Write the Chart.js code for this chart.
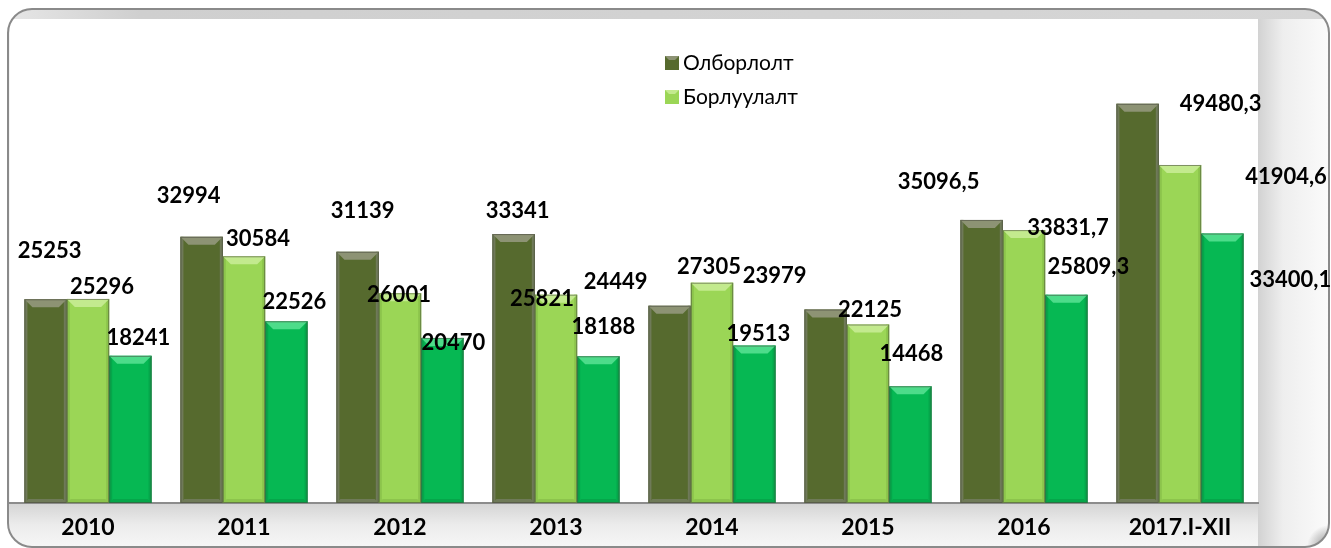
<!DOCTYPE html>
<html><head><meta charset="utf-8">
<script src="https://cdn.jsdelivr.net/npm/chart.js@4.4.0/dist/chart.umd.min.js"></script>
<style>html,body{margin:0;padding:0;background:#fff;overflow:hidden}#wrap{width:1331px;height:548px;position:relative}</style>
</head><body><div id="wrap"><canvas id="c" width="1331" height="548"></canvas></div>
<script>
// ---- data ----
const categories = ['2010','2011','2012','2013','2014','2015','2016','2017.I-XII'];
const olborlolt  = [25253, 32994, 31139, 33341, 24449, 23979, 35096.5, 49480.3];
const borluulalt = [25296, 30584, 26001, 25821, 27305, 22125, 33831.7, 41904.6];
const series3    = [18241, 22526, 20470, 18188, 19513, 14468, 25809.3, 33400.1];
const seriesNames = ['Олборлолт', 'Борлуулалт', ''];
const yMin = 0, yMax = 60000;

// ---- styles ----
const bodyColors  = ['#566a2e', '#9bd656', '#06b853'];
const topColors   = ['#8d9374', '#c3ea8e', '#4ddc8a'];
const edgeColors  = ['#6f7a58', '#8cc44c', '#05a64a'];
// label offsets (px) from the top centre of each bar
const labelOffsets = [
  [[4,-48],[-13,-41],[5,-41],[4,-23],[-54,-24],[-51,-34],[-43,-38],[83,0]],
  [[14,-12],[14,-17],[-1,2],[-14,4],[-3,-16],[2,-15],[44,-2],[106,12]],
  [[8,-18],[8,-19],[11,5],[5,-29],[4,-12],[1,-32],[22,-28],[68,46]]
];
const fmt = v => String(v).replace('.', ',');

const framePlugin = {
  id: 'frame',
  beforeDraw(chart) {
    const ctx = chart.ctx, ca = chart.chartArea;
    const W = chart.width, H = chart.height;
    ctx.save();
    ctx.fillStyle = '#fff'; ctx.fillRect(0, 0, W, H);
    const fx = 8, fy = 9, fr = 1329, fb = 547, rad = 24;
    const path = () => { ctx.beginPath(); ctx.roundRect(fx, fy, fr - fx, fb - fy, rad); };
    path(); ctx.save(); ctx.clip();
    ctx.fillStyle = '#f4f4f4'; ctx.fillRect(fx, fy, fr - fx, fb - fy);
    let g = ctx.createLinearGradient(fx, 0, fr, 0);
    g.addColorStop(0, '#e6e6e6'); g.addColorStop(0.1, '#cfcfcf'); g.addColorStop(1, '#d6d6d6');
    ctx.fillStyle = g; ctx.fillRect(fx, fy, fr - fx, ca.top - fy);
    g = ctx.createLinearGradient(ca.right, 0, fr, 0);
    g.addColorStop(0, '#d2d2d2'); g.addColorStop(0.35, '#eeeeee'); g.addColorStop(1, '#fbfbfb');
    ctx.fillStyle = g; ctx.fillRect(ca.right, ca.top, fr - ca.right, fb - ca.top);
    g = ctx.createLinearGradient(0, ca.bottom, 0, fb);
    g.addColorStop(0, '#d4d4d4'); g.addColorStop(0.5, '#ececec'); g.addColorStop(1, '#f6f6f6');
    ctx.fillStyle = g; ctx.fillRect(fx, ca.bottom, ca.right - fx, fb - ca.bottom);
    g = ctx.createRadialGradient(fr, fb, 0, fr, fb, 22);
    g.addColorStop(0, 'rgba(60,60,60,0.6)'); g.addColorStop(1, 'rgba(60,60,60,0)');
    ctx.fillStyle = g; ctx.fillRect(fr - 22, fb - 22, 22, 22);
    ctx.fillStyle = '#ffffff'; ctx.fillRect(ca.left, ca.top, ca.right - ca.left, ca.bottom - ca.top);
    ctx.restore();
    path(); ctx.strokeStyle = '#8a8a8a'; ctx.lineWidth = 2; ctx.stroke();
    ctx.restore();
  }
};

const barPlugin = {
  id: 'bevelLabels',
  afterDatasetsDraw(chart) {
    const ctx = chart.ctx;
    chart.data.datasets.forEach((ds, di) => {
      const meta = chart.getDatasetMeta(di);
      meta.data.forEach((el, i) => {
        const l = el.x - el.width / 2, r = el.x + el.width / 2, t = el.y, b = el.base;
        const bv = 8, sd = 3;
        ctx.save();
        ctx.fillStyle = edgeColors[di];
        ctx.fillRect(l, t, sd, b - t);
        ctx.fillRect(r - sd, t, sd, b - t);
        ctx.beginPath();
        ctx.moveTo(l, t); ctx.lineTo(r, t); ctx.lineTo(r - bv, t + bv); ctx.lineTo(l + bv, t + bv); ctx.closePath();
        ctx.fillStyle = topColors[di]; ctx.fill();
        ctx.beginPath();
        ctx.moveTo(l, b); ctx.lineTo(r, b); ctx.lineTo(r - 4, b - 4); ctx.lineTo(l + 4, b - 4); ctx.closePath();
        ctx.fillStyle = edgeColors[di]; ctx.fill();
        ctx.strokeStyle = 'rgba(70,70,60,0.55)'; ctx.lineWidth = 1;
        ctx.strokeRect(l + 0.5, t + 0.5, el.width - 1, b - t - 1);
        ctx.restore();
      });
    });
    chart.data.datasets.forEach((ds, di) => {
      const meta = chart.getDatasetMeta(di);
      meta.data.forEach((el, i) => {
        const off = labelOffsets[di][i];
        ctx.save();
        ctx.font = 'bold 22px Lato, "Liberation Sans", sans-serif';
        ctx.fillStyle = '#000'; ctx.textAlign = 'center'; ctx.textBaseline = 'middle';
        ctx.fillText(fmt(ds.data[i]), el.x + off[0], el.y + off[1]);
        ctx.restore();
      });
    });
  },
  afterDraw(chart) {
    const ctx = chart.ctx;
    const lx = 665, ly = [63, 97];
    chart.data.datasets.forEach((ds, di) => {
      if (!ds.label) return;
      const y = ly[di];
      ctx.save();
      ctx.fillStyle = bodyColors[di]; ctx.fillRect(lx, y - 7, 14, 14);
      ctx.beginPath(); ctx.moveTo(lx, y - 7); ctx.lineTo(lx + 14, y - 7); ctx.lineTo(lx + 10, y - 3); ctx.lineTo(lx + 4, y - 3); ctx.closePath();
      ctx.fillStyle = topColors[di]; ctx.fill();
      ctx.font = '21px Lato, "Noto Sans", sans-serif';
      ctx.fillStyle = '#000'; ctx.textAlign = 'left'; ctx.textBaseline = 'middle';
      ctx.fillText(ds.label, lx + 18, y);
      ctx.restore();
    });
  }
};

const datasets = [olborlolt, borluulalt, series3].map((arr, di) => ({
  label: seriesNames[di],
  data: arr,
  backgroundColor: bodyColors[di],
  borderWidth: 0,
  categoryPercentage: 0.815,
  barPercentage: 1.0
}));

new Chart(document.getElementById('c'), {
  type: 'bar',
  data: { labels: categories, datasets },
  options: {
    responsive: false, animation: false, devicePixelRatio: 1,
    layout: { padding: { left: 10, right: 73, top: 19, bottom: 0 } },
    plugins: { legend: { display: false }, tooltip: { enabled: false } },
    scales: {
      x: {
        grid: { display: false, drawTicks: false },
        border: { display: true, color: '#8c8c8c', width: 2 },
        ticks: { color: '#000', padding: 11, font: { family: 'Lato', weight: 'bold', size: 23 } },
        afterFit(scale) { scale.height = 45; }
      },
      y: { display: false, min: yMin, max: yMax }
    }
  },
  plugins: [framePlugin, barPlugin]
});
</script>
</body></html>
